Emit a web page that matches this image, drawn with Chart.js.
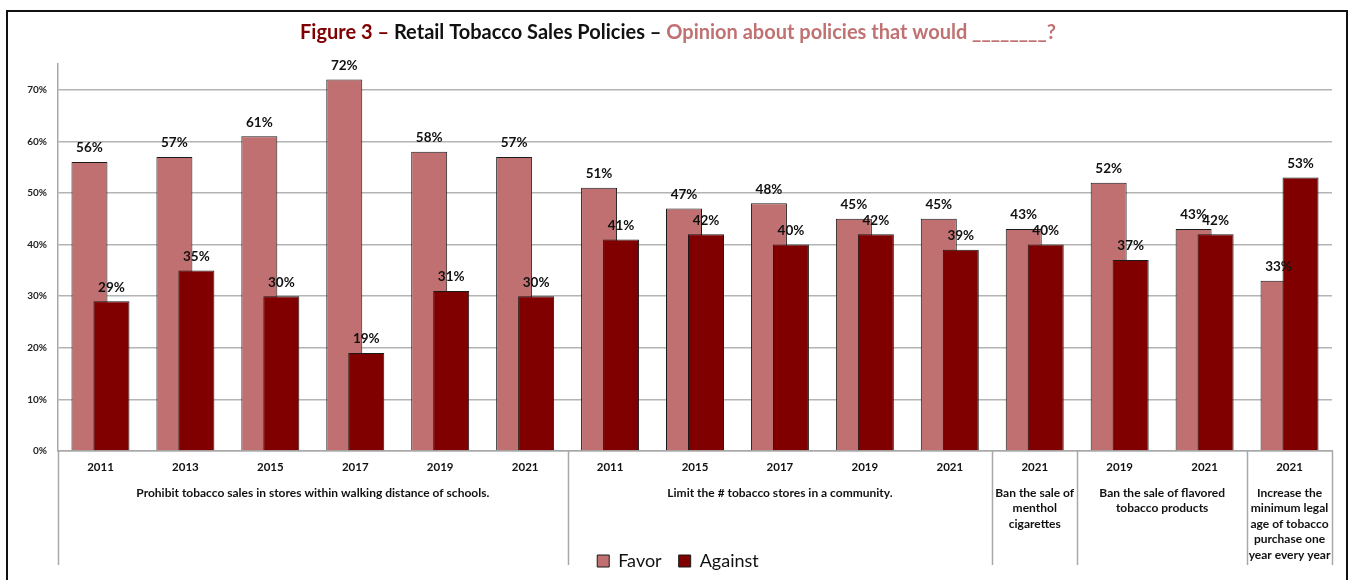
<!DOCTYPE html>
<html>
<head>
<meta charset="utf-8">
<title>Retail Tobacco Sales Policies</title>
<script src="https://cdn.jsdelivr.net/npm/chart.js@4.4.0/dist/chart.umd.min.js"></script>
<style>
  html, body { margin: 0; padding: 0; background: #fff; }
  canvas { display: block; }
</style>
</head>
<body>
<canvas id="policyChart" width="1353" height="580"></canvas>
<script>
// survey year for each bar pair
const years = ['2011', '2013', '2015', '2017', '2019', '2021',
               '2011', '2015', '2017', '2019', '2021',
               '2021',
               '2019', '2021',
               '2021'];
const favor   = [56, 57, 61, 72, 58, 57, 51, 47, 48, 45, 45, 43, 52, 43, 33];
const against = [29, 35, 30, 19, 31, 30, 41, 42, 40, 42, 39, 40, 37, 42, 53];

// policy question under each run of years, and how many years it covers
const policies = [
  ['Prohibit tobacco sales in stores within walking distance of schools.'],
  ['Limit the # tobacco stores in a community.'],
  ['Ban the sale of', 'menthol', 'cigarettes'],
  ['Ban the sale of flavored', 'tobacco products'],
  ['Increase the', 'minimum legal', 'age of tobacco', 'purchase one', 'year every year']
];
const policySpan = [6, 5, 1, 2, 1];

const titleParts = [
  { text: 'Figure 3 \u2013 ', color: '#7f0000' },
  { text: 'Retail Tobacco Sales Policies \u2013 ', color: '#111111' },
  { text: 'Opinion about policies that would ________?', color: '#c07272' }
];

const FONT = 'Lato, "Noto Sans", sans-serif';
const FAVOR_COLOR = '#c07070';
const AGAINST_COLOR = '#800000';
const AXIS_GREY = '#a8a8a8';

// white page with a black frame
const framePlugin = {
  id: 'frame',
  beforeDraw(chart) {
    const ctx = chart.ctx;
    ctx.save();
    ctx.fillStyle = '#fff';
    ctx.fillRect(0, 0, chart.width, chart.height);
    ctx.strokeStyle = '#111';
    ctx.lineWidth = 2;
    ctx.strokeRect(7, 11, 1340, 620);
    ctx.restore();
  }
};

// three-colour heading
const titlePlugin = {
  id: 'multiTitle',
  afterDraw(chart) {
    const ctx = chart.ctx;
    ctx.save();
    ctx.font = 'bold 20px ' + FONT;
    ctx.textBaseline = 'middle';
    ctx.textAlign = 'left';
    const total = titleParts.reduce((w, p) => w + ctx.measureText(p.text).width, 0);
    let x = 678 - total / 2;
    titleParts.forEach(p => {
      ctx.fillStyle = p.color;
      ctx.fillText(p.text, x, 33);
      x += ctx.measureText(p.text).width;
    });
    ctx.restore();
  }
};

// Against bars overlap the Favor bars, so draw them after Favor
const againstOnTop = {
  id: 'againstOnTop',
  beforeDatasetDraw(chart, args) {
    if (args.index === 1) return false;
  },
  afterDatasetDraw(chart, args) {
    if (args.index === 0) chart.getDatasetMeta(1).controller.draw();
  }
};

// percentage above every bar
const valueLabels = {
  id: 'valueLabels',
  afterDatasetsDraw(chart) {
    const ctx = chart.ctx;
    ctx.save();
    ctx.font = 'bold 13.5px ' + FONT;
    ctx.fillStyle = '#111';
    ctx.textAlign = 'center';
    ctx.textBaseline = 'middle';
    chart.data.datasets.forEach((ds, i) => {
      chart.getDatasetMeta(i).data.forEach((bar, j) => {
        ctx.fillText(ds.data[j] + '%', bar.x, bar.y - 14);
      });
    });
    ctx.restore();
  }
};

// second level of the category axis: dividers and policy text
const policyAxis = {
  id: 'policyAxis',
  afterDraw(chart) {
    const ctx = chart.ctx;
    const x = chart.scales.x;
    const edge = i => {
      if (i <= 0) return x.left;
      if (i >= years.length) return x.right;
      return (x.getPixelForValue(i - 1) + x.getPixelForValue(i)) / 2;
    };
    const top = x.top;
    ctx.save();
    ctx.strokeStyle = AXIS_GREY;
    ctx.lineWidth = 1.5;
    let start = 0;
    const bounds = [0];
    policySpan.forEach(n => { start += n; bounds.push(start); });
    bounds.forEach(b => {
      const px = Math.round(edge(b)) + 0.5;
      ctx.beginPath();
      ctx.moveTo(px, top);
      ctx.lineTo(px, 565);
      ctx.stroke();
    });
    ctx.font = 'bold 12px ' + FONT;
    ctx.fillStyle = '#111';
    ctx.textAlign = 'center';
    ctx.textBaseline = 'middle';
    policies.forEach((lines, g) => {
      const cx = (edge(bounds[g]) + edge(bounds[g + 1])) / 2;
      lines.forEach((line, k) => ctx.fillText(line, cx, 493 + k * 15.5));
    });
    ctx.restore();
  }
};

new Chart(document.getElementById('policyChart'), {
  type: 'bar',
  data: {
    labels: years,
    datasets: [
      {
        label: 'Favor',
        data: favor,
        backgroundColor: FAVOR_COLOR,
        borderColor: '#1a1a1a',
        borderWidth: 1,
        categoryPercentage: 0.518,
        barPercentage: 1.636
      },
      {
        label: 'Against',
        data: against,
        backgroundColor: AGAINST_COLOR,
        borderColor: '#1a1a1a',
        borderWidth: 1,
        categoryPercentage: 0.518,
        barPercentage: 1.636
      }
    ]
  },
  options: {
    responsive: false,
    animation: false,
    devicePixelRatio: 1,
    layout: { padding: { top: 64, left: 24, right: 21, bottom: 0 } },
    plugins: {
      title: { display: false },
      tooltip: { enabled: false },
      legend: {
        position: 'bottom',
        labels: {
          font: { family: FONT, size: 18 },
          color: '#111',
          boxWidth: 12,
          boxHeight: 12,
          padding: 17
        }
      }
    },
    scales: {
      x: {
        grid: { display: false, drawTicks: false },
        border: { display: true, color: AXIS_GREY, width: 1.5 },
        ticks: {
          font: { family: FONT, size: 11.5, weight: 'bold' },
          color: '#111',
          padding: 9,
          maxRotation: 0,
          autoSkip: false
        },
        afterFit(scale) { scale.height = 84; }
      },
      y: {
        min: 0,
        max: 75,
        ticks: {
          stepSize: 10,
          callback: v => (v % 10 === 0 ? v + '%' : ''),
          font: { family: FONT, size: 10, weight: 'bold' },
          color: '#222',
          padding: 11
        },
        grid: {
          drawTicks: false,
          lineWidth: 1.5,
          color: c => (c.tick && c.tick.value % 10 === 0 ? '#b4b4b4' : 'rgba(0,0,0,0)')
        },
        border: { color: AXIS_GREY, width: 1.5 },
        afterFit(scale) { scale.width = 34; }
      }
    }
  },
  plugins: [framePlugin, againstOnTop, valueLabels, policyAxis, titlePlugin]
});
</script>
</body>
</html>
